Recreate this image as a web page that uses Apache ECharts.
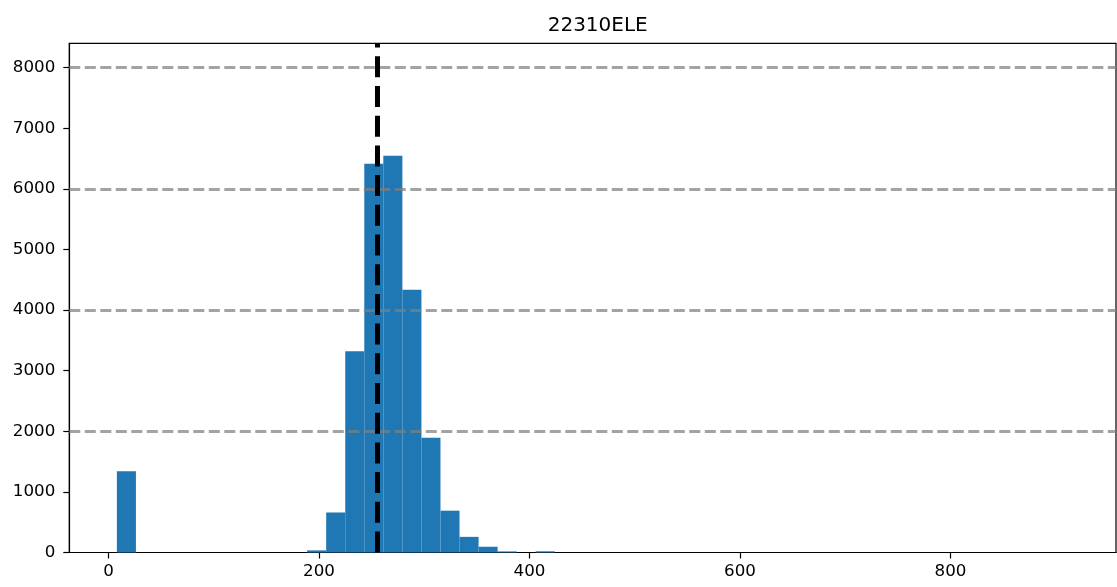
<!DOCTYPE html>
<html>
<head>
<meta charset="utf-8">
<script src="https://cdn.jsdelivr.net/npm/echarts@6/dist/echarts.min.js"></script>
<style>html,body{margin:0;padding:0;background:#fff}#c{width:1117px;height:587px}</style>
</head>
<body>
<div id="c"></div>
<script>
// Histogram bins: left edge, right edge, count
const binLefts  = [7.9, 188.7, 206.8, 224.9, 243.0, 261.1, 279.2, 297.3, 315.4, 333.5, 351.6, 369.7, 405.9];
const binRights = [26.0, 206.8, 224.9, 243.0, 261.1, 279.2, 297.3, 315.4, 333.5, 351.6, 369.7, 387.8, 424.0];
const counts    = [1340, 35, 660, 3320, 6415, 6545, 4335, 1895, 690, 258, 95, 18, 20];
const xTicks = [0, 200, 400, 600, 800];
const yTicks = [0, 1000, 2000, 3000, 4000, 5000, 6000, 7000, 8000];
const hLines = [2000, 4000, 6000, 8000];
const vLine = 255.3;
const titleText = '22310ELE';

const histData = binLefts.map((l, i) => [l, binRights[i], counts[i]]);
const FONT = 'DejaVu Sans';

const chart = echarts.init(document.getElementById('c'), null, {renderer: 'canvas'});
chart.setOption({
  animation: false,
  backgroundColor: '#fff',
  title: {
    text: titleText, left: 592.7, top: 11, textAlign: 'center',
    textStyle: {fontFamily: FONT, fontSize: 20, fontWeight: 'normal', color: '#000'}
  },
  grid: {left: 69.3, right: 1, top: 43.3, bottom: 34.5, show: true, borderColor: '#000', borderWidth: 1.2, backgroundColor: 'transparent'},
  xAxis: {
    type: 'value', min: -37.3, max: 957.3,
    axisLine: {show: true, onZero: false, lineStyle: {color: '#000', width: 1.2}},
    axisTick: {show: true, customValues: xTicks, length: 6, lineStyle: {color: '#000', width: 1.2}},
    axisLabel: {customValues: xTicks, margin: 11, fontFamily: FONT, fontSize: 16.7, color: '#000',
      formatter: v => String(v)},
    splitLine: {show: false}
  },
  yAxis: {
    type: 'value', min: 0, max: 8400,
    axisLine: {show: true, onZero: false, lineStyle: {color: '#000', width: 1.2}},
    axisTick: {show: true, customValues: yTicks, length: 6, lineStyle: {color: '#000', width: 1.2}},
    axisLabel: {customValues: yTicks, margin: 14, fontFamily: FONT, fontSize: 16.7, color: '#000',
      formatter: v => String(v)},
    splitLine: {show: false}
  },
  series: [
    {
      type: 'custom',
      data: histData,
      encode: {x: [0, 1], y: 2},
      z: 2,
      renderItem: function (params, api) {
        const p0 = api.coord([api.value(0), api.value(2)]);
        const p1 = api.coord([api.value(1), 0]);
        return {
          type: 'rect',
          shape: {x: p0[0], y: p0[1], width: p1[0] - p0[0], height: p1[1] - p0[1]},
          style: {fill: '#1f77b4'}
        };
      }
    },
    {
      type: 'line', data: [], z: 3,
      markLine: {
        silent: true, symbol: 'none', animation: false,
        label: {show: false},
        lineStyle: {color: 'rgba(128,128,128,0.72)', width: 3, type: [11, 4.5]},
        data: hLines.map(v => ({yAxis: v}))
      }
    },
    {
      type: 'line', data: [], z: 4,
      markLine: {
        silent: true, symbol: 'none', animation: false,
        label: {show: false},
        lineStyle: {color: '#000', width: 5, type: [21, 8.7]},
        data: [{xAxis: vLine}]
      }
    }
  ]
});
</script>
</body>
</html>
